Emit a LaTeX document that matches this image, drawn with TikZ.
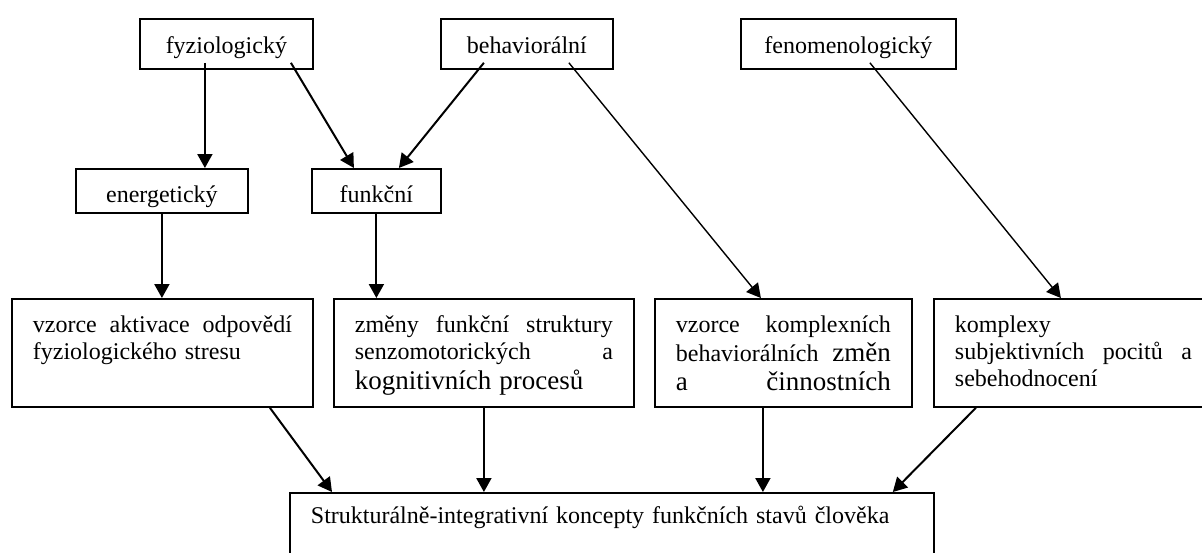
\documentclass[tikz,border=0pt]{standalone}
\usepackage{fontspec}
\setmainfont{Liberation Serif}
\usetikzlibrary{calc,arrows.meta}

\newcommand{\vetsi}[1]{{\fontsize{13.5}{13.5}\selectfont #1}}

\tikzset{
  box/.style={draw, line width=.9pt, anchor=north west, inner ysep=0pt},
  headbox/.style={box, inner xsep=0pt, align=center, text width=#1, text height=17.5pt, text depth=7.5pt},
  subbox/.style={box, inner xsep=0pt, align=center, text width=#1, text height=17pt, text depth=5pt},
  textbox/.style={box, inner xsep=10.5pt, align=left, text width=#1, text height=17pt, text depth=37pt},
  endbox/.style={box, inner xsep=10.5pt, align=left, text width=#1, text height=15.5pt, text depth=29.5pt},
  arr/.style={-{Triangle[length=7pt,width=7.5pt]}, line width=1pt},
  thinarr/.style={arr, line width=.7pt}
}

\begin{document}
\begin{tikzpicture}[x=.5pt, y=-.5pt, font=\fontsize{12}{13.5}\selectfont]
\useasboundingbox (0,0) rectangle (1202,552);

% horni rada
\node[headbox=86.5pt] (fyz) at (139,18) {fyziologický};
\node[headbox=86pt] (beh) at (440,18) {behaviorální};
\node[headbox=107.5pt] (fen) at (740,18) {fenomenologický};

\node[subbox=86pt] (ene) at (75,168) {energetický};
\node[subbox=64.5pt] (fun) at (311,168) {funkční};

% stredni rada
\node[textbox=129.5pt] (vak) at (11,298) {vzorce\hfill aktivace\hfill odpovědí\\fyziologického stresu};
\node[textbox=129pt] (zfs) at (333,298) {změny\hfill funkční\hfill struktury\\senzomotorických\hfill a\\[1.5pt]\vetsi{kognitivních procesů}};
\node[textbox=107.5pt] (vkb) at (654,298) {vzorce\hfill komplexních\\[1pt]behaviorálních\hfill \vetsi{změn}\\[1pt]\vetsi{a\hfill činnostních}};
\node[textbox=118.5pt] (kom) at (933,298) {komplexy\\subjektivních\hfill pocitů\hfill a\\sebehodnocení};

% spodni box
\node[endbox=301pt] (kon) at (289,492) {Strukturálně-integrativní koncepty funkčních stavů člověka};

% sipky
\draw[arr] ($(fyz.south)+(-21.5,-7)$) -- ($(ene.north)+(43,0)$);
\draw[arr] ($(fyz.south)+(64.5,-7)$) -- ($(fun.north)+(-22.5,0)$);
\draw[arr] ($(beh.south)+(-43,-7)$) -- ($(fun.north)+(22.5,0)$);
\draw[thinarr] ($(beh.south)+(42,-7)$) -- ($(vkb.north)+(-22.5,0)$);
\draw[thinarr] ($(fen.south)+(21.5,-7)$) -- ($(kom.north)+(-12.5,0)$);

\draw[arr] (ene.south) -- (ene.south |- vak.north);
\draw[arr] (fun.south) -- (fun.south |- zfs.north);

\coordinate (c3) at ($(vkb.south)+(-20.5,0)$);
\draw[arr] ($(vak.south)+(107.5,0)$) -- ($(kon.north west)+(43,0)$);
\draw[arr] (zfs.south) -- (zfs.south |- kon.north);
\draw[arr] (c3) -- (c3 |- kon.north);
\draw[arr] ($(kom.south)+(-97.5,0)$) -- ($(kon.north east)+(-42,0)$);

\end{tikzpicture}
\end{document}
